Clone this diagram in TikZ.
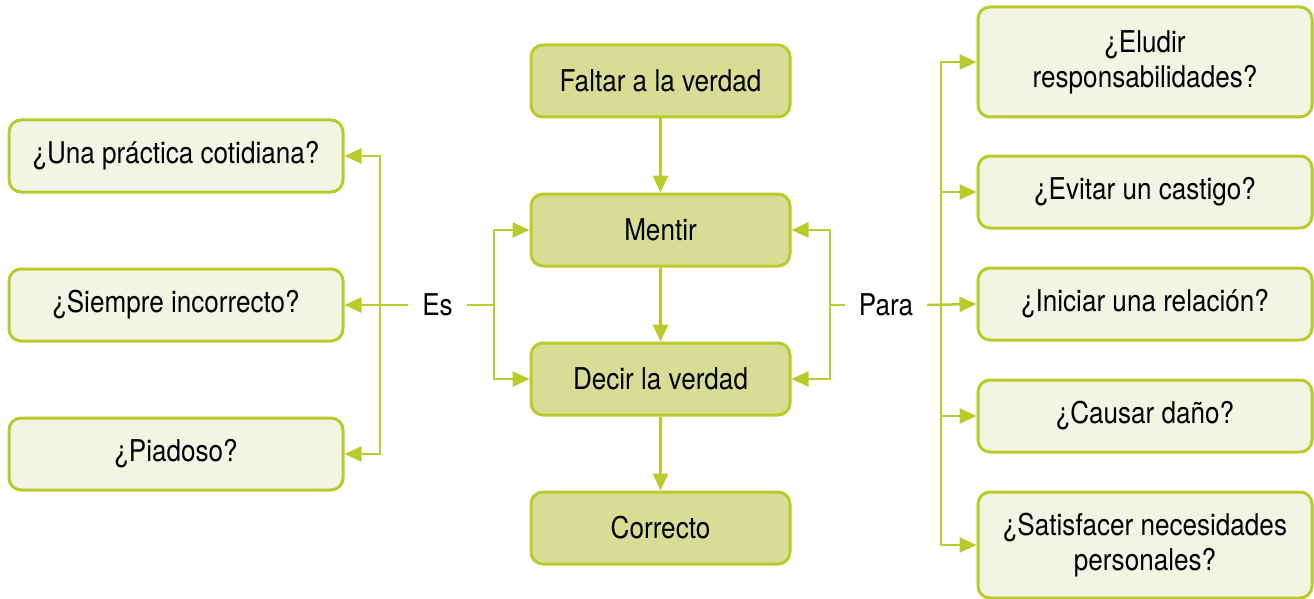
\documentclass[tikz,border=0pt]{standalone}
\usepackage{fontspec}
\setmainfont[FakeStretch=0.87]{TeX Gyre Heros}
\usetikzlibrary{arrows.meta}
\definecolor{lg}{RGB}{184,203,42}
\definecolor{cfill}{RGB}{214,222,150}
\definecolor{ofill}{RGB}{242,245,228}
\begin{document}
\begin{tikzpicture}[x=1pt,y=-1pt,
  every node/.style={font=\fontsize{30}{35}\selectfont},
  cbox/.style={draw=lg,line width=3pt,fill=cfill,rounded corners=12pt,minimum width=259pt,minimum height=72pt,inner sep=0pt,align=center},
  obox/.style={draw=lg,line width=3pt,fill=ofill,rounded corners=12pt,minimum width=334pt,minimum height=72pt,inner sep=0pt,align=center},
  lbl/.style={inner xsep=14pt,inner ysep=2pt},
  conn/.style={draw=lg,line width=2.5pt},
  arr/.style={conn,-{Triangle[length=17pt,width=15pt]}}
]
\useasboundingbox (0,0) rectangle (1314,599);
% center column
\node[cbox] (faltar) at (660.5,81) {Faltar a la verdad};
\node[cbox] (mentir) at (660.5,230) {Mentir};
\node[cbox] (decir) at (660.5,379) {Decir la verdad};
\node[cbox] (correcto) at (660.5,528) {Correcto};
% left column
\node[obox] (l1) at (176,156) {¿Una práctica cotidiana?};
\node[obox] (l2) at (176,305) {¿Siempre incorrecto?};
\node[obox] (l3) at (176,454) {¿Piadoso?};
% right column
\node[obox,minimum height=110pt] (r1) at (1145,62) {¿Eludir\\responsabilidades?};
\node[obox] (r2) at (1145,192) {¿Evitar un castigo?};
\node[obox] (r3) at (1145,304) {¿Iniciar una relación?};
\node[obox] (r4) at (1145,416) {¿Causar daño?};
\node[obox,minimum height=106pt] (r5) at (1145,545) {¿Satisfacer necesidades\\personales?};
% labels
\node[lbl] (es) at (437.5,305) {Es};
\node[lbl] (para) at (886,305) {Para};
% junction coordinates
\coordinate (jL) at (380,0);
\coordinate (jC) at (494,0);
\coordinate (jP) at (830,0);
\coordinate (jR) at (941,0);
% center arrows
\draw[arr] (faltar.south) -- (mentir.north);
\draw[arr] (mentir.south) -- (decir.north);
\draw[arr] (decir.south) -- (correcto.north);
% Es connectors
\draw[arr] (es.west) -- (es.west -| jL) |- (l1.east);
\draw[arr] (es.west) -- (es.west -| jL) |- (l3.east);
\draw[arr] (es.west) -- (l2.east);
\draw[arr] (es.east) -- (es.east -| jC) |- (mentir.west);
\draw[arr] (es.east) -- (es.east -| jC) |- (decir.west);
% Para connectors
\draw[arr] (para.west) -- (para.west -| jP) |- (mentir.east);
\draw[arr] (para.west) -- (para.west -| jP) |- (decir.east);
\draw[arr] (para.east) -- (para.east -| jR) |- (r1.west);
\draw[arr] (para.east) -- (para.east -| jR) |- (r2.west);
\draw[arr] (para.east) -- (r3.west);
\draw[arr] (para.east) -- (para.east -| jR) |- (r4.west);
\draw[arr] (para.east) -- (para.east -| jR) |- (r5.west);
\end{tikzpicture}
\end{document}
